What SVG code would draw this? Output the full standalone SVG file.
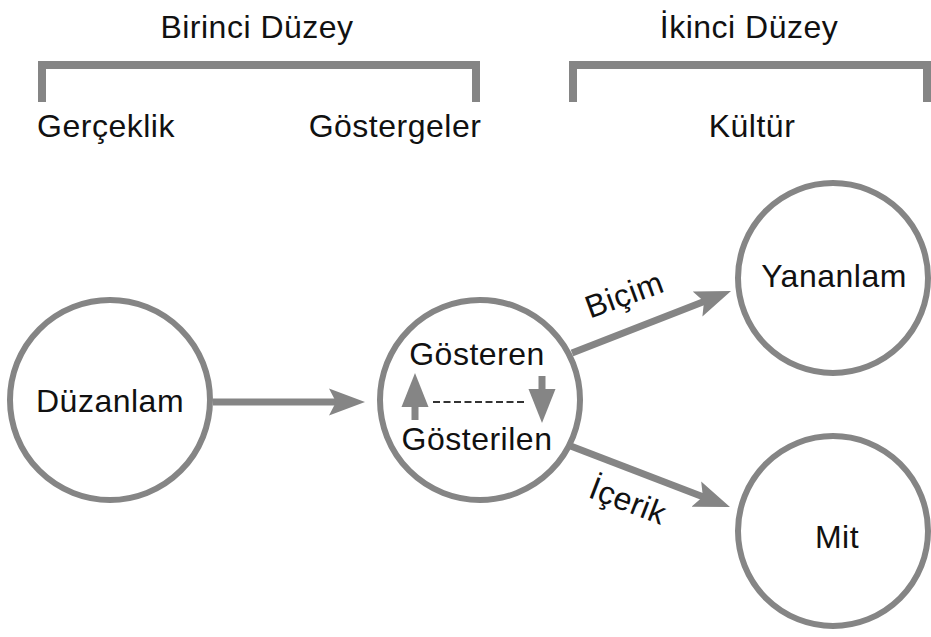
<svg xmlns="http://www.w3.org/2000/svg" width="931" height="637" viewBox="0 0 931 637">
  <style>
    .lbl { font-family: "Liberation Sans", Arial, sans-serif; font-size: 32px; letter-spacing: 0.5px; fill: #111; text-anchor: middle; }
    .ring { fill: #fff; stroke: #858585; stroke-width: 6; }
    .bracket { fill: none; stroke: #858585; stroke-width: 8; stroke-linejoin: miter; }
    .conn { fill: none; stroke: #858585; stroke-width: 7; }
    .dash { fill: none; stroke: #333; stroke-width: 2; stroke-dasharray: 7 3.5; }
  </style>
  <defs>
    <marker id="head" markerUnits="userSpaceOnUse" viewBox="0 -14 37 28" markerWidth="37" markerHeight="28" refX="16" refY="0" orient="auto">
      <path d="M0,-13.5 L36,0 L0,13.5 L7,0 Z" fill="#858585"/>
    </marker>
    <marker id="small" markerUnits="userSpaceOnUse" viewBox="0 -14 35 28" markerWidth="35" markerHeight="28" refX="4" refY="0" orient="auto">
      <path d="M0,-13.5 L34,0 L0,13.5 Z" fill="#858585"/>
    </marker>
  </defs>
  <rect width="931" height="637" fill="#fff"/>

  <!-- level headings and brackets -->
  <g id="level1">
    <text class="lbl" x="257" y="38">Birinci Düzey</text>
    <path class="bracket" d="M42,102 V65 H476 V102"/>
    <text class="lbl" x="106" y="137">Gerçeklik</text>
    <text class="lbl" x="395" y="137">Göstergeler</text>
  </g>
  <g id="level2">
    <text class="lbl" x="749" y="38">İkinci Düzey</text>
    <path class="bracket" d="M573,102 V65 H927 V102"/>
    <text class="lbl" x="752" y="137">Kültür</text>
  </g>

  <!-- connectors -->
  <g id="connectors">
    <line class="conn" x1="213" y1="402" x2="345" y2="402" marker-end="url(#head)"/>
    <line class="conn" x1="572" y1="353" x2="712.4" y2="298.2" marker-end="url(#head)"/>
    <line class="conn" x1="568" y1="445" x2="711.3" y2="499.9" marker-end="url(#head)"/>
    <text class="lbl" x="628" y="305" transform="rotate(-20 628 305)">Biçim</text>
    <text class="lbl" x="624" y="511" transform="rotate(21 624 511)">İçerik</text>
  </g>

  <!-- nodes -->
  <g id="duzanlam">
    <circle class="ring" cx="110" cy="400" r="100"/>
    <text class="lbl" x="110" y="412">Düzanlam</text>
  </g>
  <g id="gosterge">
    <circle class="ring" cx="480" cy="400" r="100"/>
    <text class="lbl" x="477" y="365">Gösteren</text>
    <text class="lbl" x="477" y="450">Gösterilen</text>
    <line class="conn" x1="415" y1="420" x2="415" y2="403" marker-end="url(#small)"/>
    <line class="conn" x1="542" y1="376" x2="542" y2="393" marker-end="url(#small)"/>
    <line class="dash" x1="433" y1="402" x2="525" y2="402"/>
  </g>
  <g id="yananlam">
    <circle class="ring" cx="833" cy="278" r="95"/>
    <text class="lbl" x="834" y="287">Yananlam</text>
  </g>
  <g id="mit">
    <circle class="ring" cx="833" cy="531" r="95"/>
    <text class="lbl" x="837" y="548">Mit</text>
  </g>
</svg>
